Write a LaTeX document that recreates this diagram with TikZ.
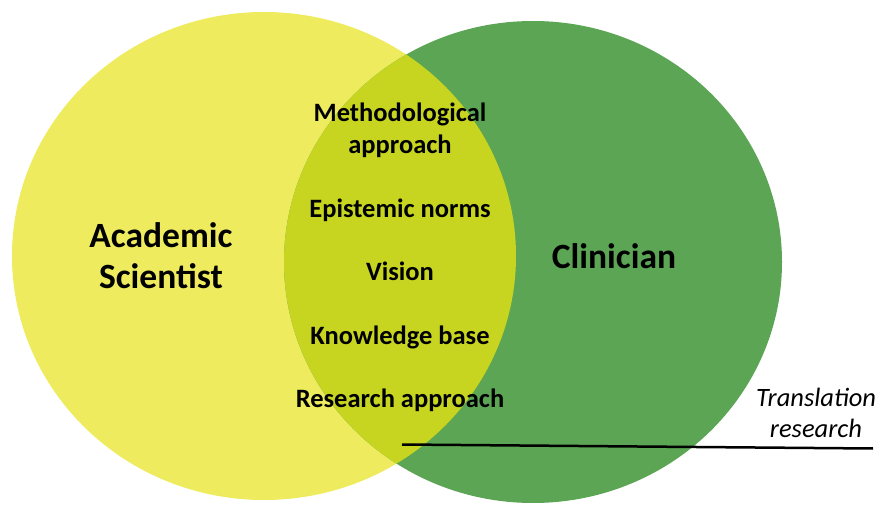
\documentclass[tikz,border=0pt]{standalone}
\usepackage{fontspec}
\setmainfont{Carlito}
\usetikzlibrary{positioning}

\definecolor{scientistyellow}{RGB}{238,236,94}
\definecolor{clinicgreen}{RGB}{91,165,84}
\definecolor{sharedolive}{RGB}{199,213,33}

\tikzset{
    sharedlabel/.style={font=\bfseries\fontsize{26.5}{32}\selectfont, align=center,
        inner sep=0pt, text height=20pt, text depth=6.5pt},
    rolelabel/.style={font=\bfseries\fontsize{35.5}{41}\selectfont, align=center, inner sep=0pt},
    notelabel/.style={font=\itshape\fontsize{26.5}{31}\selectfont, align=center, inner sep=0pt}
}

\begin{document}
\begin{tikzpicture}[x=1pt, y=-1pt]
        \useasboundingbox (0,0) rectangle (879,505);
        % the two fields
        \fill[scientistyellow] (264,256) ellipse [x radius=252, y radius=244];
        \fill[clinicgreen] (533,262) ellipse [x radius=249, y radius=241];
        \begin{scope}
            \clip (264,256) ellipse [x radius=252, y radius=244];
            \fill[sharedolive] (533,262) ellipse [x radius=249, y radius=241];
        \end{scope}
        % labels
        \node[rolelabel](Scientist) at (161,256){Academic\\Scientist};
        \node[rolelabel](Clinician) at (614,256){Clinician};
        \begin{scope}[node distance=36.5pt]
            \node[sharedlabel](Vision) at (400,274){Vision};
            \node[sharedlabel, above=of Vision](Epistemic){Epistemic norms};
            \node[sharedlabel, above=of Epistemic](Method){Methodological\\approach};
            \node[sharedlabel, below=of Vision](Knowledge){Knowledge base};
            \node[sharedlabel, below=of Knowledge](Research){Research approach};
        \end{scope}
        \node[notelabel](Translation) at (816,413){Translation\\research};
        \coordinate (lineStart) at (402,444.5);
        \coordinate (lineEnd) at (873,448.5);
        \draw[line width=2.5pt] (lineStart) -- (lineEnd);
    \end{tikzpicture}
\end{document}
